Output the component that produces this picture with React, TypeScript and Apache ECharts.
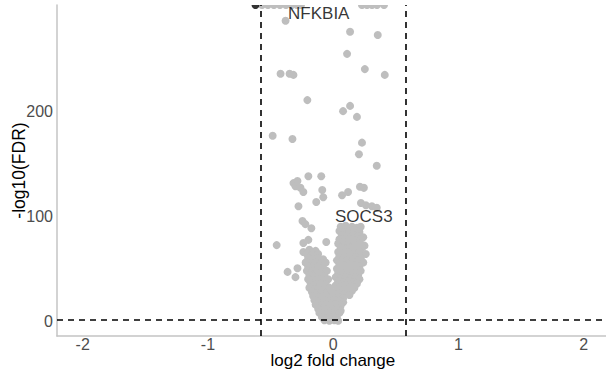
import React, { useEffect, useRef } from "react";
import * as echarts from "echarts";

// x = log2 fold change, y = -log10(FDR)
const xTicks = [-2, -1, 0, 1, 2];
const yTicks = [0, 100, 200];
const fcCutoff = 0.585;
const fdrCutoff = 1.3;

// significant (down) gene, capped at top
const sigPoints: number[][] = [[-0.62, 301]];

// points capped at the top of the panel
const cappedPoints: number[][] = [
  [-0.568, 301], [-0.521, 301], [-0.473, 301], [-0.425, 301], [-0.377, 301],
  [-0.329, 301], [-0.289, 301], [-0.257, 301],
  [0.23, 301], [0.27, 301], [0.31, 301], [0.35, 301], [0.406, 301],
];

const scatteredPoints: number[][] = [
  [-0.38, 286], [0.135, 275.5], [0.356, 272.5], [0.111, 254.5], [0.253, 240],
  [-0.42, 235.5], [-0.348, 235.5], [-0.317, 234.5], [0.412, 234.5], [-0.206, 210.5],
  [0.135, 205], [0.079, 200], [0.19, 194.5], [-0.483, 176.5], [-0.325, 173.5],
  [0.23, 170], [0.206, 159], [0.348, 148], [-0.198, 138], [-0.095, 138],
  [-0.317, 131.5], [-0.285, 133.5], [-0.301, 128.5], [-0.261, 127], [-0.238, 123],
  [-0.087, 125], [0.071, 120], [0.119, 123], [0.214, 128], [0.245, 127],
  [-0.079, 118], [-0.135, 113.5], [-0.277, 109.5], [0.222, 112.5], [0.261, 110.5],
  [0.309, 109.5], [0.348, 108], [-0.245, 95.5], [-0.222, 92.5], [-0.174, 88.5],
  [-0.451, 72.5], [-0.238, 74.5], [-0.198, 77.5], [-0.238, 66], [-0.055, 75.5],
  [-0.364, 47], [-0.285, 50.5], [-0.301, 42],
];

const rightArmPoints: number[][] = [
  [0.06, 90], [0.1, 91], [0.15, 90], [0.19, 89], [0.22, 90],
  [0.05, 86], [0.09, 85], [0.13, 86], [0.17, 87], [0.21, 85],
  [0.07, 82], [0.11, 81], [0.16, 82], [0.2, 81], [0.24, 80],
  [0.05, 78], [0.09, 77], [0.13, 78], [0.18, 77], [0.22, 78],
  [0.04, 74], [0.08, 73], [0.12, 74], [0.16, 73], [0.21, 74], [0.25, 72],
  [0.06, 70], [0.1, 69], [0.14, 70], [0.19, 69], [0.23, 70],
  [0.04, 66], [0.08, 65], [0.12, 66], [0.17, 65], [0.21, 66], [0.26, 64],
  [0.05, 62], [0.09, 61], [0.14, 62], [0.18, 61], [0.22, 60],
  [0.03, 58], [0.07, 57], [0.11, 58], [0.15, 57], [0.2, 58], [0.24, 56],
  [0.05, 54], [0.09, 53], [0.13, 54], [0.17, 53], [0.21, 52],
  [0.03, 50], [0.07, 49], [0.11, 50], [0.15, 49], [0.19, 50], [0.22, 48],
  [0.04, 46], [0.08, 45], [0.12, 46], [0.16, 45], [0.2, 44],
  [0.02, 42], [0.06, 41], [0.1, 42], [0.14, 41], [0.18, 42], [0.21, 40],
  [0.04, 38], [0.08, 37], [0.12, 38], [0.16, 37], [0.19, 36],
  [0.02, 34], [0.06, 33], [0.1, 34], [0.14, 33], [0.17, 32],
  [0.03, 30], [0.07, 29], [0.11, 30], [0.15, 29],
  [0.02, 26], [0.05, 27], [0.09, 26], [0.13, 25],
];

const leftArmPoints: number[][] = [
  [-0.19, 68], [-0.14, 67],
  [-0.21, 64], [-0.17, 63], [-0.12, 64],
  [-0.2, 60], [-0.16, 59], [-0.12, 60], [-0.08, 59],
  [-0.22, 56], [-0.18, 55], [-0.14, 56], [-0.1, 55], [-0.06, 56],
  [-0.2, 52], [-0.16, 51], [-0.12, 52], [-0.08, 51],
  [-0.21, 48], [-0.17, 47], [-0.13, 48], [-0.09, 47], [-0.05, 48],
  [-0.19, 44], [-0.15, 43], [-0.11, 44], [-0.07, 43],
  [-0.2, 40], [-0.16, 39], [-0.12, 40], [-0.08, 39], [-0.04, 40],
  [-0.18, 36], [-0.14, 35], [-0.1, 36], [-0.06, 35],
  [-0.19, 32], [-0.15, 31], [-0.11, 32], [-0.07, 31], [-0.03, 32],
  [-0.17, 28], [-0.13, 27], [-0.09, 28], [-0.05, 27], [-0.01, 28],
];

const basePoints: number[][] = [
  [-0.16, 24], [-0.12, 23], [-0.08, 24], [-0.04, 23], [0.0, 24], [0.04, 23], [0.08, 22],
  [-0.15, 20], [-0.11, 19], [-0.07, 20], [-0.03, 19], [0.01, 20], [0.05, 19], [0.08, 18],
  [-0.14, 16], [-0.1, 15], [-0.06, 16], [-0.02, 15], [0.02, 16], [0.06, 15],
  [-0.12, 12], [-0.08, 11], [-0.04, 12], [0.0, 11], [0.04, 12], [0.06, 10],
  [-0.11, 8], [-0.07, 7], [-0.03, 8], [0.01, 7], [0.05, 8],
  [-0.09, 4], [-0.05, 3], [-0.01, 4], [0.03, 3],
  [-0.07, 1], [-0.03, 0.5], [0.01, 1], [0.04, 0.5],
];

const labelGenes = ["NFKBIA", "SOCS3"];
const labelX = [-0.115, 0.245];
const labelY = [293, 100];

const FONT = "'Liberation Sans', Arial, Helvetica, sans-serif";

export default function App() {
  const ref = useRef<HTMLDivElement>(null);
  useEffect(() => {
    if (!ref.current) return;
    const chart = echarts.init(ref.current, undefined, { renderer: "svg" });
    const grayPoints = [
      ...cappedPoints,
      ...scatteredPoints,
      ...rightArmPoints,
      ...leftArmPoints,
      ...basePoints,
    ];
    chart.setOption({
      animation: false,
      backgroundColor: "#ffffff",
      textStyle: { fontFamily: FONT },
      grid: {
        left: 57,
        top: 5,
        width: 551.7,
        bottom: 37,
        containLabel: false,
        outerBoundsMode: "none",
      },
      xAxis: {
        type: "value",
        min: -2.205,
        max: 2.2,
        name: "log2 fold change",
        nameLocation: "middle",
        nameGap: 16,
        nameMoveOverlap: false,
        nameTextStyle: { color: "#000000", fontSize: 17, fontFamily: FONT },
        axisLine: { onZero: false, lineStyle: { color: "#c4c4c4", width: 1.5 } },
        axisTick: { show: false },
        splitLine: { show: false },
        axisLabel: {
          customValues: xTicks,
          color: "#4d4d4d",
          fontSize: 16,
          margin: 0,
          fontFamily: FONT,
        },
      },
      yAxis: {
        type: "value",
        min: -14,
        max: 301,
        name: "-log10(FDR)",
        nameLocation: "middle",
        nameGap: 29,
        nameMoveOverlap: false,
        nameTextStyle: { color: "#000000", fontSize: 17.5, fontFamily: FONT },
        axisLine: { onZero: false, lineStyle: { color: "#c4c4c4", width: 1.5 } },
        axisTick: { show: false },
        splitLine: { show: false },
        axisLabel: {
          customValues: yTicks,
          color: "#4d4d4d",
          fontSize: 16,
          margin: 4,
          fontFamily: FONT,
        },
      },
      graphic: [
        {
          type: "rect",
          shape: { x: 58, y: 0, width: 560, height: 5 },
          style: { fill: "#ffffff" },
          z: 50,
          silent: true,
        },
      ],
      series: [
        {
          type: "scatter",
          data: grayPoints,
          symbolSize: 8,
          itemStyle: { color: "#bebebe", opacity: 1 },
          clip: false,
          z: 2,
          silent: true,
        },
        {
          type: "scatter",
          data: sigPoints,
          symbolSize: 8,
          itemStyle: { color: "#000000" },
          clip: false,
          z: 3,
          silent: true,
        },
        {
          type: "scatter",
          data: [],
          z: 4,
          silent: true,
          markLine: {
            silent: true,
            symbol: ["none", "none"],
            label: { show: false },
            lineStyle: { color: "#000000", width: 1.6, type: [6, 5] },
            data: [{ xAxis: -fcCutoff }, { xAxis: fcCutoff }, { yAxis: fdrCutoff }],
          },
        },
        {
          type: "scatter",
          data: labelGenes.map((g, i) => ({ name: g, value: [labelX[i], labelY[i]] })),
          symbolSize: 0,
          z: 60,
          silent: true,
          label: {
            show: true,
            position: "inside",
            formatter: (p: any) => p.name,
            color: "#000000",
            fontSize: 17,
            fontFamily: FONT,
          },
        },
      ],
    });
    return () => chart.dispose();
  }, []);
  return (
    <div
      ref={ref}
      style={{ position: "fixed", left: 0, top: 0, width: 606, height: 373 }}
    />
  );
}
